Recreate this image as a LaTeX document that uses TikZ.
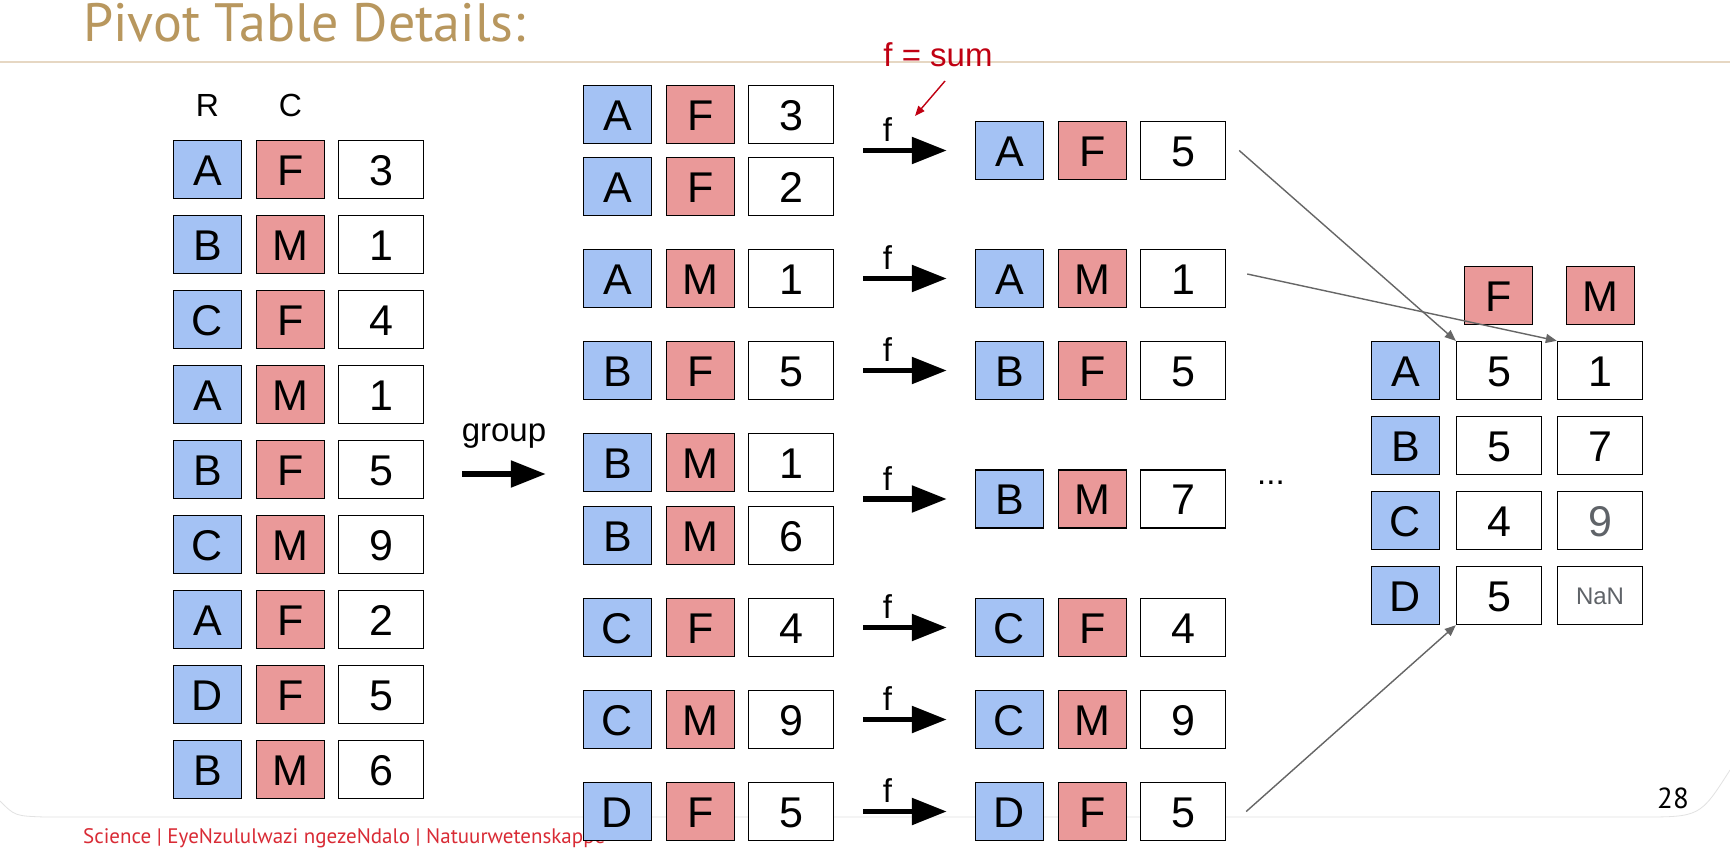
\documentclass[tikz,border=0pt]{standalone}
\usepackage{fontspec}
\usetikzlibrary{arrows.meta,calc}
\newfontfamily\arialf{Liberation Sans}
\newfontfamily\twcf{PT Sans}
\definecolor{rowblue}{HTML}{A4C2F4}
\definecolor{colred}{HTML}{EA9999}
\definecolor{titletan}{HTML}{B8975E}
\definecolor{rulebeige}{HTML}{E6D7C3}
\definecolor{footred}{HTML}{D92B35}
\definecolor{sumred}{HTML}{C00012}
\definecolor{arrowgray}{HTML}{666666}
\definecolor{textgray}{HTML}{5F6368}
\definecolor{cardgray}{HTML}{E2E2E2}
\newcommand\bxfont{\arialf\fontsize{43}{43}\selectfont}
\newcommand\lbfont{\arialf\fontsize{33}{33}\selectfont}
\newcommand\mytriple[6]{%
  \node[rbox] (#1r) at (#2+34.5,#3) {#4};
  \node[cbox] (#1c) at (#2+117.5,#3) {#5};
  \node[vbox] (#1v) at (#2+208,#3) {#6};}
\begin{document}
\begin{tikzpicture}[x=1pt,y=-1pt,
  cellbox/.style={draw=black, line width=1.4pt, inner sep=0pt, minimum height=58pt,
    text height=31pt, text depth=0pt, font=\bxfont},
  rbox/.style={cellbox, fill=rowblue, minimum width=68pt},
  cbox/.style={cellbox, fill=colred, minimum width=68pt},
  vbox/.style={cellbox, fill=white, minimum width=85pt},
  fat/.style={line width=5.5pt, -{Triangle[length=35pt,width=26pt]}},
  flabel/.style={font=\lbfont, anchor=base, inner sep=0pt},
  pivarrow/.style={draw=arrowgray, line width=1.4pt, -{Triangle[length=11pt,width=9pt]}},
  redarrow/.style={draw=sumred, line width=1.4pt, -{Triangle[length=10pt,width=8pt]}}]
\useasboundingbox (0,0) rectangle (1730,852);
\fill[white] (0,0) rectangle (1730,852);
% faint card edge
\draw[cardgray, line width=0.8pt] (0,801) .. controls (15,816) .. (45,817) -- (1640,817) .. controls (1700,817) .. (1730,770);
% header rule and title
\draw[rulebeige, line width=2.5pt] (0,62) -- (1730,62);
\node[anchor=base west, inner sep=0pt, text=titletan, font=\twcf\fontsize{54}{54}\selectfont] (title) at (83,41) {Pivot Table Details:};
% footer
\node[anchor=base west, inner sep=0pt, text=footred, font=\twcf\fontsize{21}{21}\selectfont] (footer) at (83,843) {Science | EyeNzululwazi ngezeNdalo | Natuurwetenskappe};
% column headers
\node[flabel, font=\arialf\fontsize{32}{32}\selectfont] (labR) at (207.5,116) {R};
\node[flabel, font=\arialf\fontsize{32}{32}\selectfont] (labC) at (290.5,116) {C};
% left table
\mytriple{La}{173}{169.5}{A}{F}{3}
\mytriple{Lb}{173}{244.5}{B}{M}{1}
\mytriple{Lc}{173}{319.5}{C}{F}{4}
\mytriple{Ld}{173}{394.5}{A}{M}{1}
\mytriple{Le}{173}{469.5}{B}{F}{5}
\mytriple{Lf}{173}{544.5}{C}{M}{9}
\mytriple{Lg}{173}{619.5}{A}{F}{2}
\mytriple{Lh}{173}{694.5}{D}{F}{5}
\mytriple{Li}{173}{769.5}{B}{M}{6}
% grouped rows
\mytriple{Ma}{583}{114.5}{A}{F}{3}
\mytriple{Mb}{583}{186.5}{A}{F}{2}
\mytriple{Mc}{583}{278.5}{A}{M}{1}
\mytriple{Md}{583}{370.5}{B}{F}{5}
\mytriple{Me}{583}{462.5}{B}{M}{1}
\mytriple{Mf}{583}{535.5}{B}{M}{6}
\mytriple{Mg}{583}{627.5}{C}{F}{4}
\mytriple{Mh}{583}{719.5}{C}{M}{9}
\mytriple{Mi}{583}{811.5}{D}{F}{5}
% aggregated rows
\mytriple{Sa}{975}{150.5}{A}{F}{5}
\mytriple{Sb}{975}{278.5}{A}{M}{1}
\mytriple{Sc}{975}{370.5}{B}{F}{5}
\mytriple{Sd}{975}{499}{B}{M}{7}
\mytriple{Se}{975}{627.5}{C}{F}{4}
\mytriple{Sf}{975}{719.5}{C}{M}{9}
\mytriple{Sg}{975}{811.5}{D}{F}{5}
% group arrow
\coordinate (gs) at ($(Lev.east)+(38,4.5)$);
\coordinate (ge) at ($(Mer.west)+(-37,11.5)$);
\draw[fat] (gs) -- (ge) node[flabel, pos=0.5, yshift=33pt] (grp) {group};
% f arrows
\draw[fat] ($(Mav.east)!0.5!(Mbv.east)+(29,0)$) -- ([xshift=-28pt]Sar.west) node[flabel, pos=0.29, yshift=9pt] (f1) {f};
\draw[fat] ([xshift=29pt]Mcv.east) -- ([xshift=-28pt]Sbr.west) node[flabel, pos=0.29, yshift=9pt] (f2) {f};
\draw[fat] ([xshift=29pt]Mdv.east) -- ([xshift=-28pt]Scr.west) node[flabel, pos=0.29, yshift=9pt] (f3) {f};
\draw[fat] ($(Mev.east)!0.5!(Mfv.east)+(29,0)$) -- ([xshift=-28pt]Sdr.west) node[flabel, pos=0.29, yshift=9pt] (f4) {f};
\draw[fat] ([xshift=29pt]Mgv.east) -- ([xshift=-28pt]Ser.west) node[flabel, pos=0.29, yshift=9pt] (f5) {f};
\draw[fat] ([xshift=29pt]Mhv.east) -- ([xshift=-28pt]Sfr.west) node[flabel, pos=0.29, yshift=9pt] (f6) {f};
\draw[fat] ([xshift=29pt]Miv.east) -- ([xshift=-28pt]Sgr.west) node[flabel, pos=0.29, yshift=9pt] (f7) {f};
% f = sum annotation
\node[flabel, text=sumred] (fsum) at (938,66) {f = sum};
\coordinate (rs) at (945,81);
\coordinate (re) at (915,116);
\draw[redarrow] (rs) -- (re);
% ellipsis
\node[anchor=base west, inner sep=0pt, font=\lbfont] (dots) at (1257,484) {...};
% pivot table
\node[cbox] (pF) at (1498.5,295.5) {F};
\node[cbox] (pM) at (1600.5,295.5) {M};
\node[rbox] (pA) at (1405.5,370.5) {A};
\node[rbox] (pB) at (1405.5,445.5) {B};
\node[rbox] (pC) at (1405.5,520.5) {C};
\node[rbox] (pD) at (1405.5,595.5) {D};
\node[vbox] (pAF) at (1499,370.5) {5};
\node[vbox] (pAM) at (1600,370.5) {1};
\node[vbox] (pBF) at (1499,445.5) {5};
\node[vbox] (pBM) at (1600,445.5) {7};
\node[vbox] (pCF) at (1499,520.5) {4};
\node[vbox, text=textgray] (pCM) at (1600,520.5) {9};
\node[vbox] (pDF) at (1499,595.5) {5};
\node[vbox, text=textgray, text height=17pt, font=\arialf\fontsize{24}{24}\selectfont] (pDM) at (1600,595.5) {NaN};
% arrows into pivot
\draw[pivarrow] ([xshift=13pt]Sav.east) -- (pAF.north west);
\draw[pivarrow] ([xshift=21pt,yshift=4.5pt]Sbv.east) -- (pAM.north west);
\draw[pivarrow] ([xshift=20pt]Sgv.east) -- (pDF.south west);
% page number
\node[anchor=base west, inner sep=0pt, font=\twcf\fontsize{29}{29}\selectfont] (pnum) at (1657,808) {28};
\end{tikzpicture}
\end{document}
